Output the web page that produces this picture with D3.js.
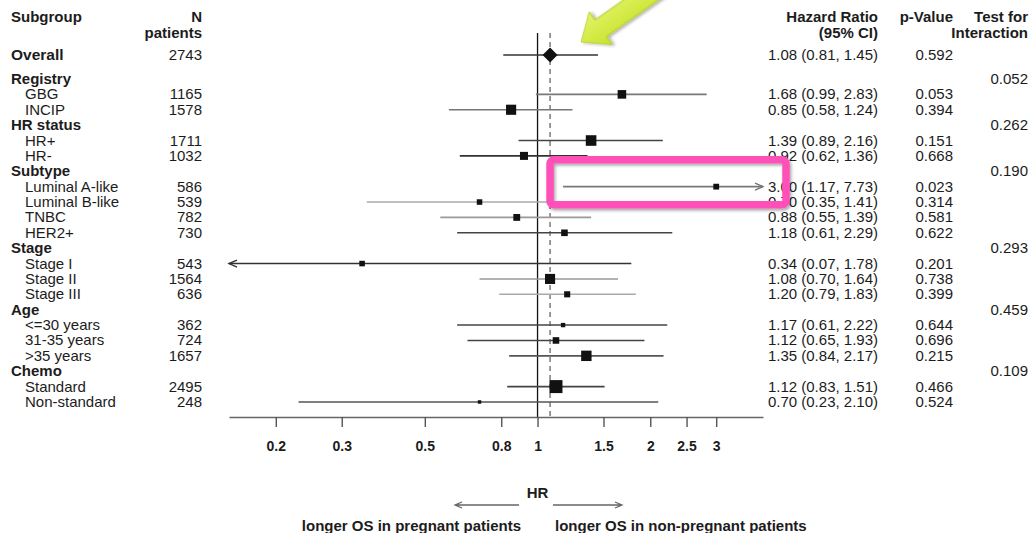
<!DOCTYPE html>
<html lang="en">
<head>
<meta charset="UTF-8">
<title>Forest plot - OS by subgroup</title>
<script src="https://d3js.org/d3.v7.min.js"></script>
<style>
  body { margin: 0; background: #fff; }
  svg text { font-family: "Liberation Sans", Arial, sans-serif; fill: #1c1c1c; }
</style>
</head>
<body>
<div id="chart"></div>
<script>
// ---- data ----
var subgroups = ["Overall", "Registry", "GBG", "INCIP", "HR status", "HR+", "HR-",
  "Subtype", "Luminal A-like", "Luminal B-like", "TNBC", "HER2+",
  "Stage", "Stage I", "Stage II", "Stage III",
  "Age", "<=30 years", "31-35 years", ">35 years",
  "Chemo", "Standard", "Non-standard"];
var isHeading = [true, true, false, false, true, false, false,
  true, false, false, false, false,
  true, false, false, false,
  true, false, false, false,
  true, false, false];
var nPatients = [2743, null, 1165, 1578, null, 1711, 1032, null, 586, 539, 782, 730,
  null, 543, 1564, 636, null, 362, 724, 1657, null, 2495, 248];
var hr    = [1.08, null, 1.68, 0.85, null, 1.39, 0.92, null, 3.00, 0.70, 0.88, 1.18,
  null, 0.34, 1.08, 1.20, null, 1.17, 1.12, 1.35, null, 1.12, 0.70];
var lower = [0.81, null, 0.99, 0.58, null, 0.89, 0.62, null, 1.17, 0.35, 0.55, 0.61,
  null, 0.07, 0.70, 0.79, null, 0.61, 0.65, 0.84, null, 0.83, 0.23];
var upper = [1.45, null, 2.83, 1.24, null, 2.16, 1.36, null, 7.73, 1.41, 1.39, 2.29,
  null, 1.78, 1.64, 1.83, null, 2.22, 1.93, 2.17, null, 1.51, 2.10];
var pValue = ["0.592", null, "0.053", "0.394", null, "0.151", "0.668", null, "0.023", "0.314", "0.581", "0.622",
  null, "0.201", "0.738", "0.399", null, "0.644", "0.696", "0.215", null, "0.466", "0.524"];
var pInteraction = [null, "0.052", null, null, "0.262", null, null, "0.190", null, null, null, null,
  "0.293", null, null, null, "0.459", null, null, null, "0.109", null, null];
var tickValues = [0.2, 0.3, 0.5, 0.8, 1, 1.5, 2, 2.5, 3];
var axisRange = [0.15, 4];

// line shades of the CI bars (style only)
var ciShade = ["#333", null, "#777", "#777", null, "#444", "#333", null, "#777", "#aaa", "#999", "#444",
  null, "#333", "#999", "#aaa", null, "#444", "#444", "#555", null, "#444", "#555"];

var W = 1032, H = 533;
var svg = d3.select('#chart').append('svg')
  .attr('width', W).attr('height', H);

var defs = svg.append('defs');
var shadow = defs.append('filter').attr('id', 'shadow')
  .attr('x', '-20%').attr('y', '-20%').attr('width', '140%').attr('height', '140%');
shadow.append('feDropShadow').attr('dx', 1.5).attr('dy', 2).attr('stdDeviation', 1.5)
  .attr('flood-color', '#000').attr('flood-opacity', 0.35);
var grad = defs.append('linearGradient').attr('id', 'lime')
  .attr('x1', 0).attr('y1', 0).attr('x2', 0).attr('y2', 1);
grad.append('stop').attr('offset', '0%').attr('stop-color', '#e4f46a');
grad.append('stop').attr('offset', '100%').attr('stop-color', '#c6e22c');

// scales
var x = d3.scaleLog().domain(axisRange).range([229, 763]);
var slot = function(i) { return i === 0 ? 0 : i + 0.56; };
var y = d3.scaleLinear().domain([0, 1]).range([55, 70.38]);
var boxSize = d3.scaleSqrt().domain([200, 2500]).range([3, 13]);

var rows = subgroups.map(function(s, i) {
  return { label: s, heading: isHeading[i], n: nPatients[i], hr: hr[i], lo: lower[i], hi: upper[i],
           p: pValue[i], pint: pInteraction[i], shade: ciShade[i], cy: y(slot(i)), idx: i };
});

// ---- column headers ----
var head = svg.append('g').attr('font-weight', 'bold').attr('font-size', '15px');
head.append('text').attr('x', 11).attr('y', 22).text('Subgroup');
head.append('text').attr('x', 202).attr('y', 22).attr('text-anchor', 'end').text('N');
head.append('text').attr('x', 202).attr('y', 38).attr('text-anchor', 'end').text('patients');
head.append('text').attr('x', 878).attr('y', 22).attr('text-anchor', 'end').text('Hazard Ratio');
head.append('text').attr('x', 878).attr('y', 38).attr('text-anchor', 'end').text('(95% CI)');
head.append('text').attr('x', 953).attr('y', 22).attr('text-anchor', 'end').text('p-Value');
head.append('text').attr('x', 1028).attr('y', 22).attr('text-anchor', 'end').text('Test for');
head.append('text').attr('x', 1028).attr('y', 38).attr('text-anchor', 'end').text('Interaction');

// ---- table text ----
var tbl = svg.append('g').attr('font-size', '15px');
tbl.selectAll('.lab').data(rows).enter().append('text')
  .attr('x', function(d) { return d.heading ? 11 : 25; })
  .attr('y', function(d) { return d.cy + 5; })
  .attr('font-weight', function(d) { return d.heading ? 'bold' : 'normal'; })
  .attr('font-size', function(d) { return d.idx === 0 ? '15.5px' : '15px'; })
  .text(function(d) { return d.label; });
tbl.selectAll('.n').data(rows.filter(function(d) { return d.n != null; })).enter().append('text')
  .attr('x', 202).attr('y', function(d) { return d.cy + 5; }).attr('text-anchor', 'end')
  .text(function(d) { return d.n; });
tbl.selectAll('.ci').data(rows.filter(function(d) { return d.hr != null; })).enter().append('text')
  .attr('x', 878).attr('y', function(d) { return d.cy + 5; }).attr('text-anchor', 'end')
  .text(function(d) { return d.hr.toFixed(2) + ' (' + d.lo.toFixed(2) + ', ' + d.hi.toFixed(2) + ')'; });
tbl.selectAll('.p').data(rows.filter(function(d) { return d.p != null; })).enter().append('text')
  .attr('x', 953).attr('y', function(d) { return d.cy + 5; }).attr('text-anchor', 'end')
  .text(function(d) { return d.p; });
tbl.selectAll('.pi').data(rows.filter(function(d) { return d.pint != null; })).enter().append('text')
  .attr('x', 1028).attr('y', function(d) { return d.cy + 5; }).attr('text-anchor', 'end')
  .text(function(d) { return d.pint; });

// ---- reference lines ----
var yTop = 33, yAxis = 417;
svg.append('line').attr('x1', x(1)).attr('x2', x(1)).attr('y1', yTop).attr('y2', yAxis)
  .attr('stroke', '#111').attr('stroke-width', 1.3);
svg.append('line').attr('x1', x(hr[0])).attr('x2', x(hr[0])).attr('y1', yTop).attr('y2', yAxis)
  .attr('stroke', '#666').attr('stroke-width', 1.3).attr('stroke-dasharray', '5,4');

// ---- CI bars ----
var est = rows.filter(function(d) { return d.hr != null; });
var lo = axisRange[0], hi = axisRange[1];
var bars = svg.append('g');
est.forEach(function(d) {
  var x1 = x(Math.max(d.lo, lo)), x2 = x(Math.min(d.hi, hi));
  bars.append('line').attr('x1', x1).attr('x2', x2).attr('y1', d.cy).attr('y2', d.cy)
    .attr('stroke', d.shade).attr('stroke-width', 1.6);
  if (d.lo < lo) {
    bars.append('path').attr('d', 'M' + (x1 + 8) + ',' + (d.cy - 3.5) + 'L' + x1 + ',' + d.cy + 'L' + (x1 + 8) + ',' + (d.cy + 3.5))
      .attr('fill', 'none').attr('stroke', d.shade).attr('stroke-width', 1.4);
  }
  if (d.hi > hi) {
    bars.append('path').attr('d', 'M' + (x2 - 8) + ',' + (d.cy - 3.5) + 'L' + x2 + ',' + d.cy + 'L' + (x2 - 8) + ',' + (d.cy + 3.5))
      .attr('fill', 'none').attr('stroke', d.shade).attr('stroke-width', 1.4);
  }
});

// point estimates: squares sized by N, diamond for overall
svg.append('g').selectAll('rect').data(est.filter(function(d) { return d.idx !== 0; })).enter().append('rect')
  .attr('x', function(d) { return x(d.hr) - boxSize(d.n) / 2; })
  .attr('y', function(d) { return d.cy - boxSize(d.n) / 2; })
  .attr('width', function(d) { return boxSize(d.n); })
  .attr('height', function(d) { return boxSize(d.n); })
  .attr('fill', '#111');
var ov = est[0];
svg.append('path')
  .attr('d', 'M' + (x(ov.hr) - 7.5) + ',' + ov.cy + 'L' + x(ov.hr) + ',' + (ov.cy - 7.5) +
             'L' + (x(ov.hr) + 7.5) + ',' + ov.cy + 'L' + x(ov.hr) + ',' + (ov.cy + 7.5) + 'Z')
  .attr('fill', '#111');

// ---- x axis ----
var axis = svg.append('g').attr('transform', 'translate(0,' + yAxis + ')')
  .call(d3.axisBottom(x).tickValues(tickValues).tickFormat(d3.format(''))
    .tickSize(10).tickSizeOuter(0).tickPadding(14));
axis.select('.domain').attr('stroke', '#666').attr('stroke-width', 1.6);
axis.selectAll('.tick line').attr('stroke', '#555').attr('stroke-width', 1.4);
axis.selectAll('.tick text').attr('font-size', '14px').attr('font-weight', 'bold')
  .attr('font-family', '"Liberation Sans", Arial, sans-serif').attr('fill', '#1c1c1c');

svg.append('text').attr('x', x(1)).attr('y', 498).attr('text-anchor', 'middle')
  .attr('font-weight', 'bold').attr('font-size', '15px').text('HR');
var foot = svg.append('g').attr('stroke', '#666').attr('stroke-width', 1.3).attr('fill', 'none');
foot.append('path').attr('d', 'M519,505L455,505M462,502L455,505L462,508');
foot.append('path').attr('d', 'M553,505L622,505M615,502L622,505L615,508');
svg.append('text').attr('x', 521).attr('y', 531).attr('text-anchor', 'end')
  .attr('font-weight', 'bold').attr('font-size', '15px').text('longer OS in pregnant patients');
svg.append('text').attr('x', 555).attr('y', 531)
  .attr('font-weight', 'bold').attr('font-size', '15px').text('longer OS in non-pregnant patients');

// ---- annotations: pink highlight box and lime arrow ----
var lumA = rows[8];
svg.append('rect')
  .attr('x', x(hr[0])).attr('y', lumA.cy - 27)
  .attr('width', x(hi) + 23 - x(hr[0])).attr('height', 45)
  .attr('rx', 4).attr('fill', 'none')
  .attr('stroke', '#ff4fb8').attr('stroke-width', 7.5)
  .attr('filter', 'url(#shadow)');

// arrow pointing at the overall estimate
var tipX = x(ov.hr) + 31, tipY = ov.cy - 13;
var ang = -35;
svg.append('path')
  .attr('transform', 'translate(' + tipX + ',' + tipY + ') rotate(' + ang + ')')
  .attr('d', 'M0,0 L24,-20 L24,-10 L130,-10 L130,10 L24,10 L24,20 Z')
  .attr('fill', 'url(#lime)').attr('stroke', '#b3cc24').attr('stroke-width', 1)
  .attr('stroke-linejoin', 'round')
  .attr('filter', 'url(#shadow)');
</script>
</body>
</html>
